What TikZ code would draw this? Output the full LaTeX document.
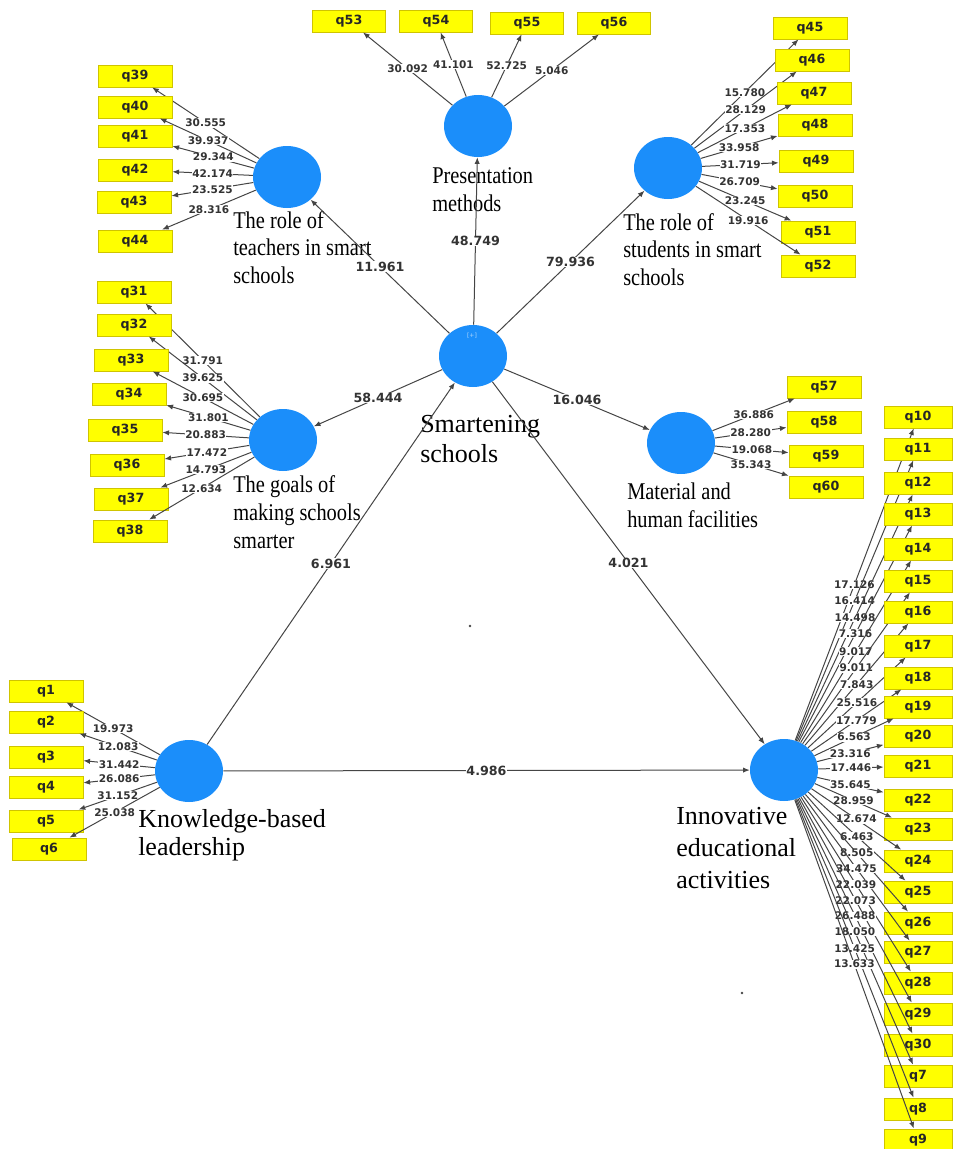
\documentclass[tikz,border=0pt]{standalone}
\usepackage{fontspec}
\setmainfont{Liberation Serif}
\newfontfamily\numfont{DejaVu Sans}
\newfontfamily\latfont[FakeStretch=0.85]{Liberation Serif}
\usetikzlibrary{shapes.geometric,arrows.meta}
\definecolor{blu}{HTML}{1B8EFA}
\definecolor{giallo}{HTML}{FFFF00}
\definecolor{bordo}{HTML}{CFC400}
\definecolor{linea}{HTML}{454545}

\tikzset{
  lat/.style={ellipse, fill=blu, minimum width=51pt, minimum height=46.5pt, inner sep=0pt},
  ind/.style={rectangle, fill=giallo, draw=bordo, line width=0.6pt, minimum width=55.5pt,
    minimum height=16.5pt, inner sep=0pt, text=black!85,
    font=\numfont\bfseries\fontsize{9.5}{10}\selectfont},
  freccia/.style={draw=linea, line width=0.75pt, -{Latex[length=5pt,width=4pt]}},
  val/.style={fill=white, inner sep=0.4pt, text=black!80,
    font=\numfont\bfseries\fontsize{7.9}{9}\selectfont},
  valbig/.style={val, font=\numfont\bfseries\fontsize{9.5}{10}\selectfont},
  etic/.style={anchor=base west, align=left, inner sep=0pt,
    font=\latfont\fontsize{18}{20.5}\selectfont},
  eticbig/.style={anchor=base west, align=left, inner sep=0pt,
    font=\fontsize{19.5}{21}\selectfont}
}

\begin{document}
\begin{tikzpicture}[x=0.75pt, y=-0.75pt]
    \useasboundingbox (0,0) rectangle (954,1149);
    % variabili latenti
    \node[lat] (smart) at (473,356) {};
    \node[lat] (pres)  at (478,126) {};
    \node[lat] (teach) at (287,177) {};
    \node[lat] (stud)  at (668,168) {};
    \node[lat] (goals) at (283,440) {};
    \node[lat] (mat)   at (681,443) {};
    \node[lat] (know)  at (189,771) {};
    \node[lat] (inno)  at (784,770) {};
    \node[text=white!65!blu, inner sep=0pt, font=\numfont\fontsize{4.5}{5}\selectfont] (espandi) at (472,336) {[+]};

    % etichette (base = ultima riga)
    \node[etic] (lteach) at (233,283) {The role of\\teachers in smart\\schools};
    \node[etic, font=\latfont\fontsize{18}{21}\selectfont] (lpres) at (432,211) {Presentation\\methods};
    \node[etic] (lstud) at (623,285) {The role of\\students in smart\\schools};
    \node[etic, font=\latfont\fontsize{18}{21}\selectfont] (lgoals) at (233,548) {The goals of\\making schools\\smarter};
    \node[etic] (lmat) at (627,527) {Material and\\human facilities};
    \node[eticbig, font=\fontsize{19.5}{22.5}\selectfont] (lsmart) at (420,462) {Smartening\\schools};
    \node[eticbig] (lknow) at (138,855) {Knowledge-based\\leadership};
    \node[eticbig, font=\fontsize{19.5}{24}\selectfont] (linno) at (676,888) {Innovative\\educational\\activities};

    % modello strutturale
    \draw[freccia] (smart) -- (teach) node[valbig, midway] {11.961};
    \draw[freccia] (smart) -- (pres)  node[valbig, midway] {48.749};
    \draw[freccia] (smart) -- (stud)  node[valbig, midway] {79.936};
    \draw[freccia] (smart) -- (goals) node[valbig, midway] {58.444};
    \draw[freccia] (smart) -- (mat)   node[valbig, midway] {16.046};
    \draw[freccia] (know) -- (smart)  node[valbig, midway] {6.961};
    \draw[freccia] (smart) -- (inno)  node[valbig, midway] {4.021};
    \draw[freccia] (know) -- (inno)   node[valbig, midway] {4.986};

    % indicatori: presentation methods
    \foreach \n/\xx/\yy/\lab in {53/349/21/30.092, 54/436/21/41.101, 55/527/23/52.725, 56/614/23/5.046}{
        \node[ind, minimum width=54.5pt] (q\n) at (\xx,\yy) {q\n};
        \draw[freccia] (pres) -- (q\n) node[val, midway] {\lab};
    }
    % indicatori: teachers
    \foreach \n/\xx/\yy/\lab in {39/135/76/30.555, 40/135/107/39.937, 41/135/136/29.344,
                                 42/135/170/42.174, 43/134/202/23.525, 44/135/241/28.316}{
        \node[ind] (q\n) at (\xx,\yy) {q\n};
        \draw[freccia] (teach) -- (q\n) node[val, midway] {\lab};
    }
    % indicatori: goals
    \foreach \n/\xx/\yy/\lab in {31/134/292/31.791, 32/134/325/39.625, 33/131/360/30.695,
                                 34/129/394/31.801, 35/125/430/20.883, 36/127/465/17.472,
                                 37/131/499/14.793, 38/130/531/12.634}{
        \node[ind] (q\n) at (\xx,\yy) {q\n};
        \draw[freccia] (goals) -- (q\n) node[val, midway] {\lab};
    }
    % indicatori: students
    \foreach \n/\xx/\yy/\lab in {45/810/28/15.780, 46/812/60/28.129, 47/814/93/17.353,
                                 48/815/125/33.958, 49/816/161/31.719, 50/815/196/26.709,
                                 51/818/232/23.245, 52/818/266/19.916}{
        \node[ind] (q\n) at (\xx,\yy) {q\n};
        \draw[freccia] (stud) -- (q\n) node[val, midway] {\lab};
    }
    % indicatori: material
    \foreach \n/\xx/\yy/\lab in {57/824/387/36.886, 58/824/422/28.280, 59/826/456/19.068, 60/826/487/35.343}{
        \node[ind] (q\n) at (\xx,\yy) {q\n};
        \draw[freccia] (mat) -- (q\n) node[val, midway] {\lab};
    }
    % indicatori: knowledge
    \foreach \n/\xx/\yy/\lab in {1/46/691/19.973, 2/46/722/12.083, 3/46/757/31.442,
                                 4/46/787/26.086, 5/46/821/31.152, 6/49/849/25.038}{
        \node[ind] (q\n) at (\xx,\yy) {q\n};
        \draw[freccia] (know) -- (q\n) node[val, midway] {\lab};
    }
    % indicatori: innovative
    \foreach \n/\yy/\lab in {10/417/17.126, 11/449/16.414, 12/483/14.498, 13/514/7.316,
                             14/549/9.017, 15/581/9.011, 16/612/7.843, 17/646/25.516,
                             18/678/17.779, 19/707/6.563, 20/736/23.316, 21/766/17.446,
                             22/800/35.645, 23/829/28.959, 24/861/12.674, 25/892/6.463,
                             26/923/8.505, 27/952/34.475, 28/983/22.039, 29/1014/22.073,
                             30/1045/26.488, 7/1076/18.050, 8/1109/13.425, 9/1140/13.633}{
        \node[ind, minimum width=51pt] (q\n) at (918,\yy) {q\n};
        \draw[freccia] (inno) -- (q\n) node[val, midway] {\lab};
    }

    % punti
    \fill[linea] (470,626) circle (1pt);
    \fill[linea] (742,993) circle (1pt);
\end{tikzpicture}
\end{document}
